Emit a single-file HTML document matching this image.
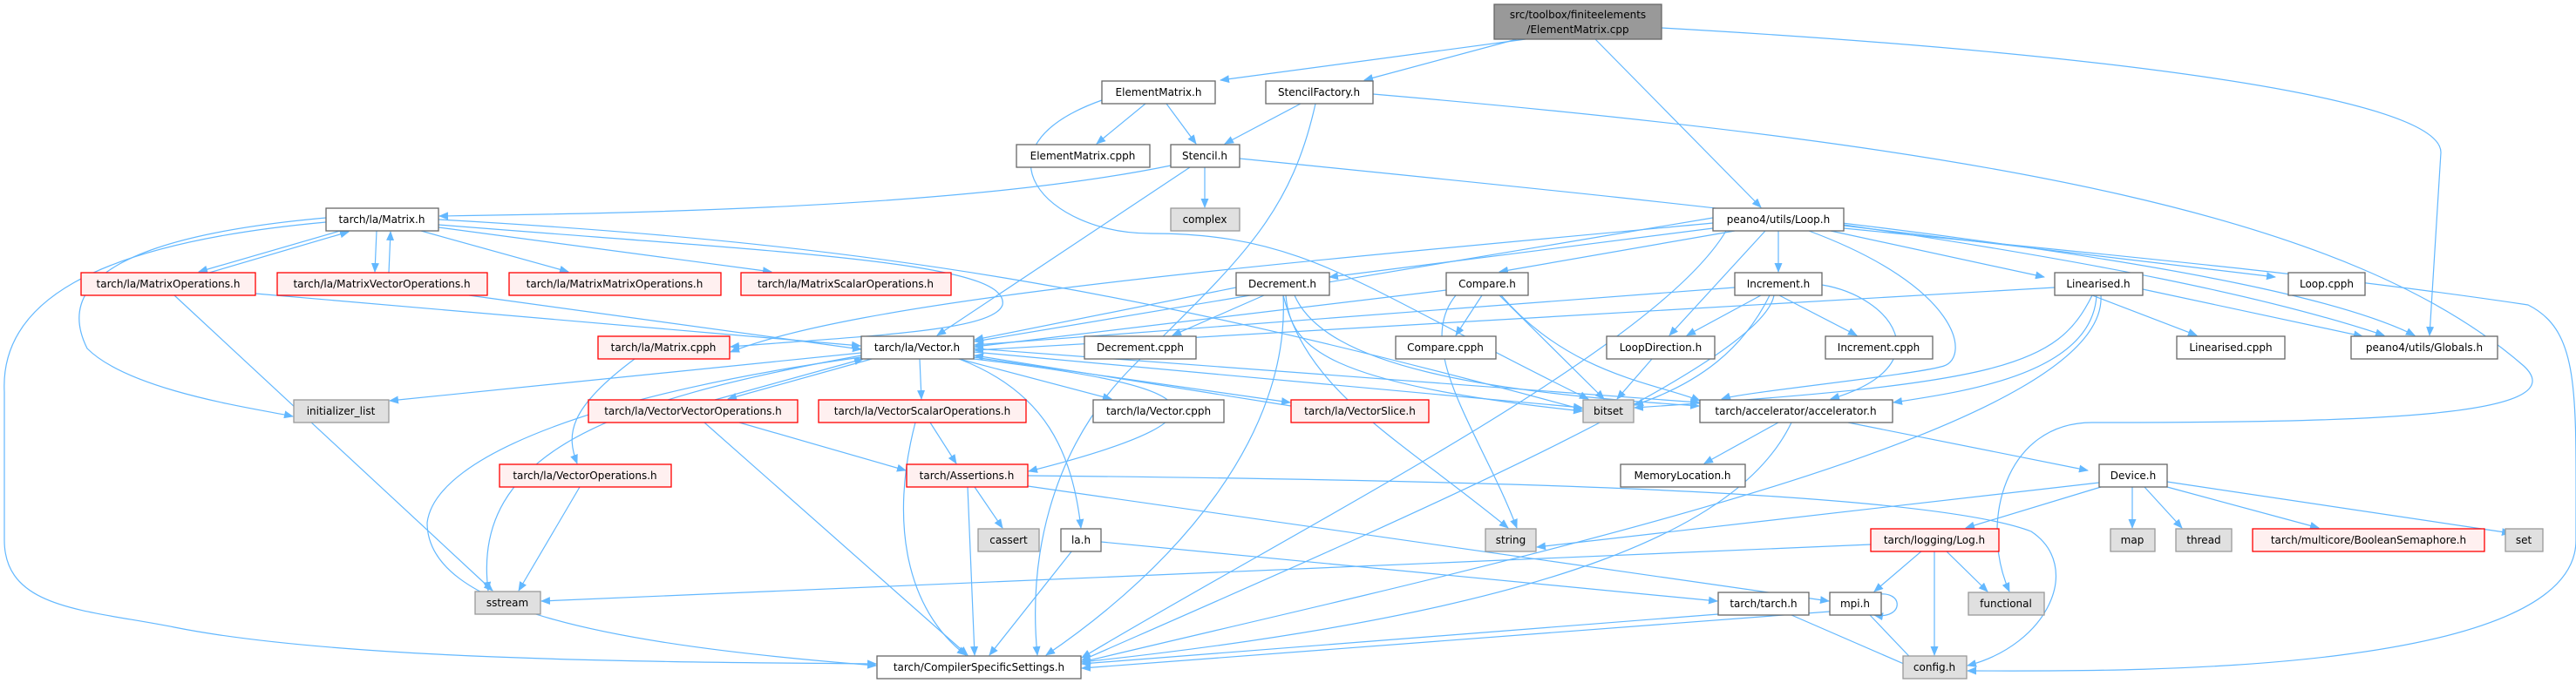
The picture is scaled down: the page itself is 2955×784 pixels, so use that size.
<!DOCTYPE html>
<html><head><meta charset="utf-8"><style>
html,body{margin:0;padding:0;background:#fff;}
svg{display:block;}
text{font-family:"DejaVu Sans","Liberation Sans",sans-serif;font-size:12px;fill:#000;text-anchor:middle;}
.n{fill:#fff;stroke:#666;stroke-width:1.3}
.r{fill:#fff0f0;stroke:#f00;stroke-width:1.3}
.g{fill:#e0e0e0;stroke:#999;stroke-width:1.3}
.t{fill:#999;stroke:#666;stroke-width:1.3}
path.e{fill:none;stroke:#63b8ff;stroke-width:1.2;marker-end:url(#a)}
</style></head><body>
<svg width="2955" height="784" viewBox="0 0 2955 784" xmlns="http://www.w3.org/2000/svg">
<defs><marker id="a" markerWidth="11" markerHeight="9" refX="10" refY="4.5" orient="auto" markerUnits="userSpaceOnUse"><path d="M0,0 L11,4.5 L0,9z" fill="#63b8ff"/></marker></defs>
<g>
<path class="e" d="M1750,45 L1400,92"/>
<path class="e" d="M1740,45 L1565,92"/>
<path class="e" d="M1830,45 L2020,238"/>
<path class="e" d="M1906,32 C2400,60 2800,110 2800,175 L2787,385"/>
<path class="e" d="M1314,119 L1258,165"/>
<path class="e" d="M1338,119 L1372,165"/>
<path class="e" d="M1264,115 C1110,170 1200,268 1320,268 C1500,268 1560,330 1822,458"/>
<path class="e" d="M1492,119 L1405,165"/>
<path class="e" d="M1575,108 C2300,170 2700,250 2895,420 C2960,480 2700,485 2400,485 C2300,485 2270,600 2305,679"/>
<path class="e" d="M1509,119 C1480,250 1420,300 1300,420 C1200,520 1180,650 1190,752"/>
<path class="e" d="M1343,190 C1100,240 700,245 504,248"/>
<path class="e" d="M1365,192 L1075,385"/>
<path class="e" d="M1382,192 L1382,238"/>
<path class="e" d="M1422,182 C2000,240 2600,300 2770,385"/>
<path class="e" d="M390,265 L228,312"/>
<path class="e" d="M240,313 L400,266"/>
<path class="e" d="M432,265 L430,312"/>
<path class="e" d="M446,313 L448,266"/>
<path class="e" d="M483,265 L652,312"/>
<path class="e" d="M503,261 L885,312"/>
<path class="e" d="M374,250 C150,270 60,320 100,400 C150,450 300,470 336,478"/>
<path class="e" d="M374,255 C100,280 0,350 5,450 L5,620 C5,700 100,700 200,720 C400,760 800,760 1005,762"/>
<path class="e" d="M503,258 C900,290 1160,300 1150,350 C1140,380 1000,385 838,398"/>
<path class="e" d="M503,252 C1000,280 1300,330 1815,470"/>
<path class="e" d="M200,339 L565,678"/>
<path class="e" d="M293,337 L987,397"/>
<path class="e" d="M538,339 L988,401"/>
<path class="e" d="M728,412 C650,470 650,500 662,532"/>
<path class="e" d="M665,559 L595,678"/>
<path class="e" d="M988,405 L447,460"/>
<path class="e" d="M988,408 C700,460 540,520 560,678"/>
<path class="e" d="M988,410 C700,450 500,520 490,600 C490,700 700,740 1005,764"/>
<path class="e" d="M1000,412 L835,458"/>
<path class="e" d="M820,459 L990,412"/>
<path class="e" d="M1055,412 L1057,458"/>
<path class="e" d="M1100,412 L1275,458"/>
<path class="e" d="M1117,410 L1480,462"/>
<path class="e" d="M1481,466 L1118,408"/>
<path class="e" d="M1117,404 L1815,468"/>
<path class="e" d="M1117,400 L1949,462"/>
<path class="e" d="M1100,412 C1200,450 1230,520 1240,606"/>
<path class="e" d="M1117,412 C1350,440 1460,470 1180,541"/>
<path class="e" d="M808,485 L1110,752"/>
<path class="e" d="M848,485 L1039,540"/>
<path class="e" d="M1067,485 L1097,532"/>
<path class="e" d="M1050,485 C1020,600 1040,700 1108,752"/>
<path class="e" d="M1118,559 L1150,606"/>
<path class="e" d="M1110,559 L1118,752"/>
<path class="e" d="M1179,546 C1600,550 2200,560 2330,610 C2390,650 2350,740 2257,764"/>
<path class="e" d="M1179,558 L2098,690"/>
<path class="e" d="M1263,622 L1970,690"/>
<path class="e" d="M1230,632 L1135,752"/>
<path class="e" d="M1971,705 L1241,762"/>
<path class="e" d="M2055,706 L2200,769"/>
<path class="e" d="M2145,706 L2205,769"/>
<path class="e" d="M2099,702 L1241,767"/>
<path class="e" d="M2150,683 C2185,675 2185,712 2150,706"/>
<path class="e" d="M2205,632 L2150,679"/>
<path class="e" d="M2219,632 L2219,752"/>
<path class="e" d="M2232,632 L2280,679"/>
<path class="e" d="M2146,625 L621,690"/>
<path class="e" d="M2410,559 L2255,606"/>
<path class="e" d="M2446,559 L2446,606"/>
<path class="e" d="M2460,559 L2503,606"/>
<path class="e" d="M2486,559 L2660,606"/>
<path class="e" d="M2486,553 L2880,612"/>
<path class="e" d="M2408,554 L1763,628"/>
<path class="e" d="M2040,485 L1955,532"/>
<path class="e" d="M2120,485 L2395,540"/>
<path class="e" d="M2055,485 C2000,600 1800,700 1241,760"/>
<path class="e" d="M2040,265 L2040,312"/>
<path class="e" d="M2100,265 L2345,318"/>
<path class="e" d="M2115,259 L2610,318"/>
<path class="e" d="M2115,258 C2400,300 2600,340 2735,385"/>
<path class="e" d="M1990,265 L1720,312"/>
<path class="e" d="M1965,262 L1525,318"/>
<path class="e" d="M2025,265 L1915,385"/>
<path class="e" d="M2075,265 C2250,330 2260,410 2230,420 C2200,430 2000,450 1975,458"/>
<path class="e" d="M2115,262 C2500,300 2700,320 2900,350 C2960,380 2955,450 2955,620 C2955,780 2400,770 2257,770"/>
<path class="e" d="M1965,250 L1118,392"/>
<path class="e" d="M1965,256 C1500,300 1000,340 838,404"/>
<path class="e" d="M1980,265 C1900,400 1500,600 1241,755"/>
<path class="e" d="M2041,339 L2130,385"/>
<path class="e" d="M2020,339 L1935,385"/>
<path class="e" d="M1990,330 L1118,396"/>
<path class="e" d="M2030,339 C2000,400 1950,440 1875,465"/>
<path class="e" d="M2090,327 C2170,340 2230,420 2100,458"/>
<path class="e" d="M2035,339 C2020,420 1600,600 1241,758"/>
<path class="e" d="M2400,339 L2520,385"/>
<path class="e" d="M2458,332 L2710,386"/>
<path class="e" d="M2357,330 L1118,402"/>
<path class="e" d="M2400,339 C2360,420 2300,440 1875,468"/>
<path class="e" d="M2405,339 C2400,430 2250,450 2172,462"/>
<path class="e" d="M2410,339 C2420,500 1700,650 1241,760"/>
<path class="e" d="M1450,339 L1345,385"/>
<path class="e" d="M1418,330 L1118,390"/>
<path class="e" d="M1475,339 C1480,400 1520,440 1815,472"/>
<path class="e" d="M1485,339 C1520,420 1700,450 1949,466"/>
<path class="e" d="M1472,339 C1500,450 1600,500 1730,606"/>
<path class="e" d="M1472,339 C1480,500 1350,650 1200,752"/>
<path class="e" d="M1700,339 L1670,385"/>
<path class="e" d="M1659,333 L1118,398"/>
<path class="e" d="M1720,339 L1840,458"/>
<path class="e" d="M1722,339 C1800,430 1900,440 1950,460"/>
<path class="e" d="M1670,339 C1620,400 1700,500 1740,606"/>
<path class="e" d="M1895,412 L1855,458"/>
</g>
<g>
<rect class="t" x="1714" y="5" width="192" height="40"/><text x="1810" y="21">src/toolbox/finiteelements</text><text x="1810" y="38">/ElementMatrix.cpp</text>
<rect class="n" x="1264" y="93" width="130" height="26"/><text x="1329" y="110">ElementMatrix.h</text>
<rect class="n" x="1452" y="93" width="123" height="26"/><text x="1513" y="110">StencilFactory.h</text>
<rect class="n" x="1166" y="166" width="153" height="26"/><text x="1242" y="183">ElementMatrix.cpph</text>
<rect class="n" x="1343" y="166" width="79" height="26"/><text x="1382" y="183">Stencil.h</text>
<rect class="g" x="1343" y="239" width="79" height="26"/><text x="1382" y="256">complex</text>
<rect class="n" x="374" y="239" width="129" height="26"/><text x="438" y="256">tarch/la/Matrix.h</text>
<rect class="n" x="1965" y="239" width="150" height="26"/><text x="2040" y="256">peano4/utils/Loop.h</text>
<rect class="r" x="93" y="313" width="200" height="26"/><text x="193" y="330">tarch/la/MatrixOperations.h</text>
<rect class="r" x="318" y="313" width="241" height="26"/><text x="438" y="330">tarch/la/MatrixVectorOperations.h</text>
<rect class="r" x="584" y="313" width="243" height="26"/><text x="705" y="330">tarch/la/MatrixMatrixOperations.h</text>
<rect class="r" x="850" y="313" width="241" height="26"/><text x="970" y="330">tarch/la/MatrixScalarOperations.h</text>
<rect class="n" x="1418" y="313" width="107" height="26"/><text x="1471" y="330">Decrement.h</text>
<rect class="n" x="1659" y="313" width="94" height="26"/><text x="1706" y="330">Compare.h</text>
<rect class="n" x="1990" y="313" width="100" height="26"/><text x="2040" y="330">Increment.h</text>
<rect class="n" x="2357" y="313" width="101" height="26"/><text x="2407" y="330">Linearised.h</text>
<rect class="n" x="2625" y="313" width="88" height="26"/><text x="2669" y="330">Loop.cpph</text>
<rect class="r" x="686" y="386" width="151" height="26"/><text x="761" y="403">tarch/la/Matrix.cpph</text>
<rect class="n" x="988" y="386" width="129" height="26"/><text x="1052" y="403">tarch/la/Vector.h</text>
<rect class="n" x="1244" y="386" width="128" height="26"/><text x="1308" y="403">Decrement.cpph</text>
<rect class="n" x="1601" y="386" width="115" height="26"/><text x="1658" y="403">Compare.cpph</text>
<rect class="n" x="1843" y="386" width="124" height="26"/><text x="1905" y="403">LoopDirection.h</text>
<rect class="n" x="2094" y="386" width="123" height="26"/><text x="2155" y="403">Increment.cpph</text>
<rect class="n" x="2497" y="386" width="124" height="26"/><text x="2559" y="403">Linearised.cpph</text>
<rect class="n" x="2697" y="386" width="168" height="26"/><text x="2781" y="403">peano4/utils/Globals.h</text>
<rect class="g" x="337" y="459" width="109" height="26"/><text x="391" y="476">initializer_list</text>
<rect class="r" x="675" y="459" width="240" height="26"/><text x="795" y="476">tarch/la/VectorVectorOperations.h</text>
<rect class="r" x="939" y="459" width="238" height="26"/><text x="1058" y="476">tarch/la/VectorScalarOperations.h</text>
<rect class="n" x="1254" y="459" width="150" height="26"/><text x="1329" y="476">tarch/la/Vector.cpph</text>
<rect class="r" x="1481" y="459" width="158" height="26"/><text x="1560" y="476">tarch/la/VectorSlice.h</text>
<rect class="g" x="1816" y="459" width="58" height="26"/><text x="1845" y="476">bitset</text>
<rect class="n" x="1950" y="459" width="221" height="26"/><text x="2060" y="476">tarch/accelerator/accelerator.h</text>
<rect class="r" x="573" y="533" width="197" height="26"/><text x="671" y="550">tarch/la/VectorOperations.h</text>
<rect class="r" x="1040" y="533" width="139" height="26"/><text x="1109" y="550">tarch/Assertions.h</text>
<rect class="n" x="1859" y="533" width="143" height="26"/><text x="1930" y="550">MemoryLocation.h</text>
<rect class="n" x="2408" y="533" width="78" height="26"/><text x="2447" y="550">Device.h</text>
<rect class="g" x="1122" y="607" width="70" height="26"/><text x="1157" y="624">cassert</text>
<rect class="n" x="1217" y="607" width="46" height="26"/><text x="1240" y="624">la.h</text>
<rect class="g" x="1704" y="607" width="58" height="26"/><text x="1733" y="624">string</text>
<rect class="r" x="2146" y="607" width="147" height="26"/><text x="2219" y="624">tarch/logging/Log.h</text>
<rect class="g" x="2421" y="607" width="51" height="26"/><text x="2446" y="624">map</text>
<rect class="g" x="2496" y="607" width="64" height="26"/><text x="2528" y="624">thread</text>
<rect class="r" x="2584" y="607" width="266" height="26"/><text x="2717" y="624">tarch/multicore/BooleanSemaphore.h</text>
<rect class="g" x="2874" y="607" width="43" height="26"/><text x="2895" y="624">set</text>
<rect class="g" x="545" y="679" width="75" height="26"/><text x="582" y="696">sstream</text>
<rect class="n" x="1971" y="680" width="104" height="26"/><text x="2023" y="697">tarch/tarch.h</text>
<rect class="n" x="2099" y="680" width="59" height="26"/><text x="2128" y="697">mpi.h</text>
<rect class="g" x="2258" y="680" width="87" height="26"/><text x="2301" y="697">functional</text>
<rect class="n" x="1006" y="753" width="234" height="26"/><text x="1123" y="770">tarch/CompilerSpecificSettings.h</text>
<rect class="g" x="2183" y="753" width="73" height="26"/><text x="2219" y="770">config.h</text>
</g>
</svg>
</body></html>
